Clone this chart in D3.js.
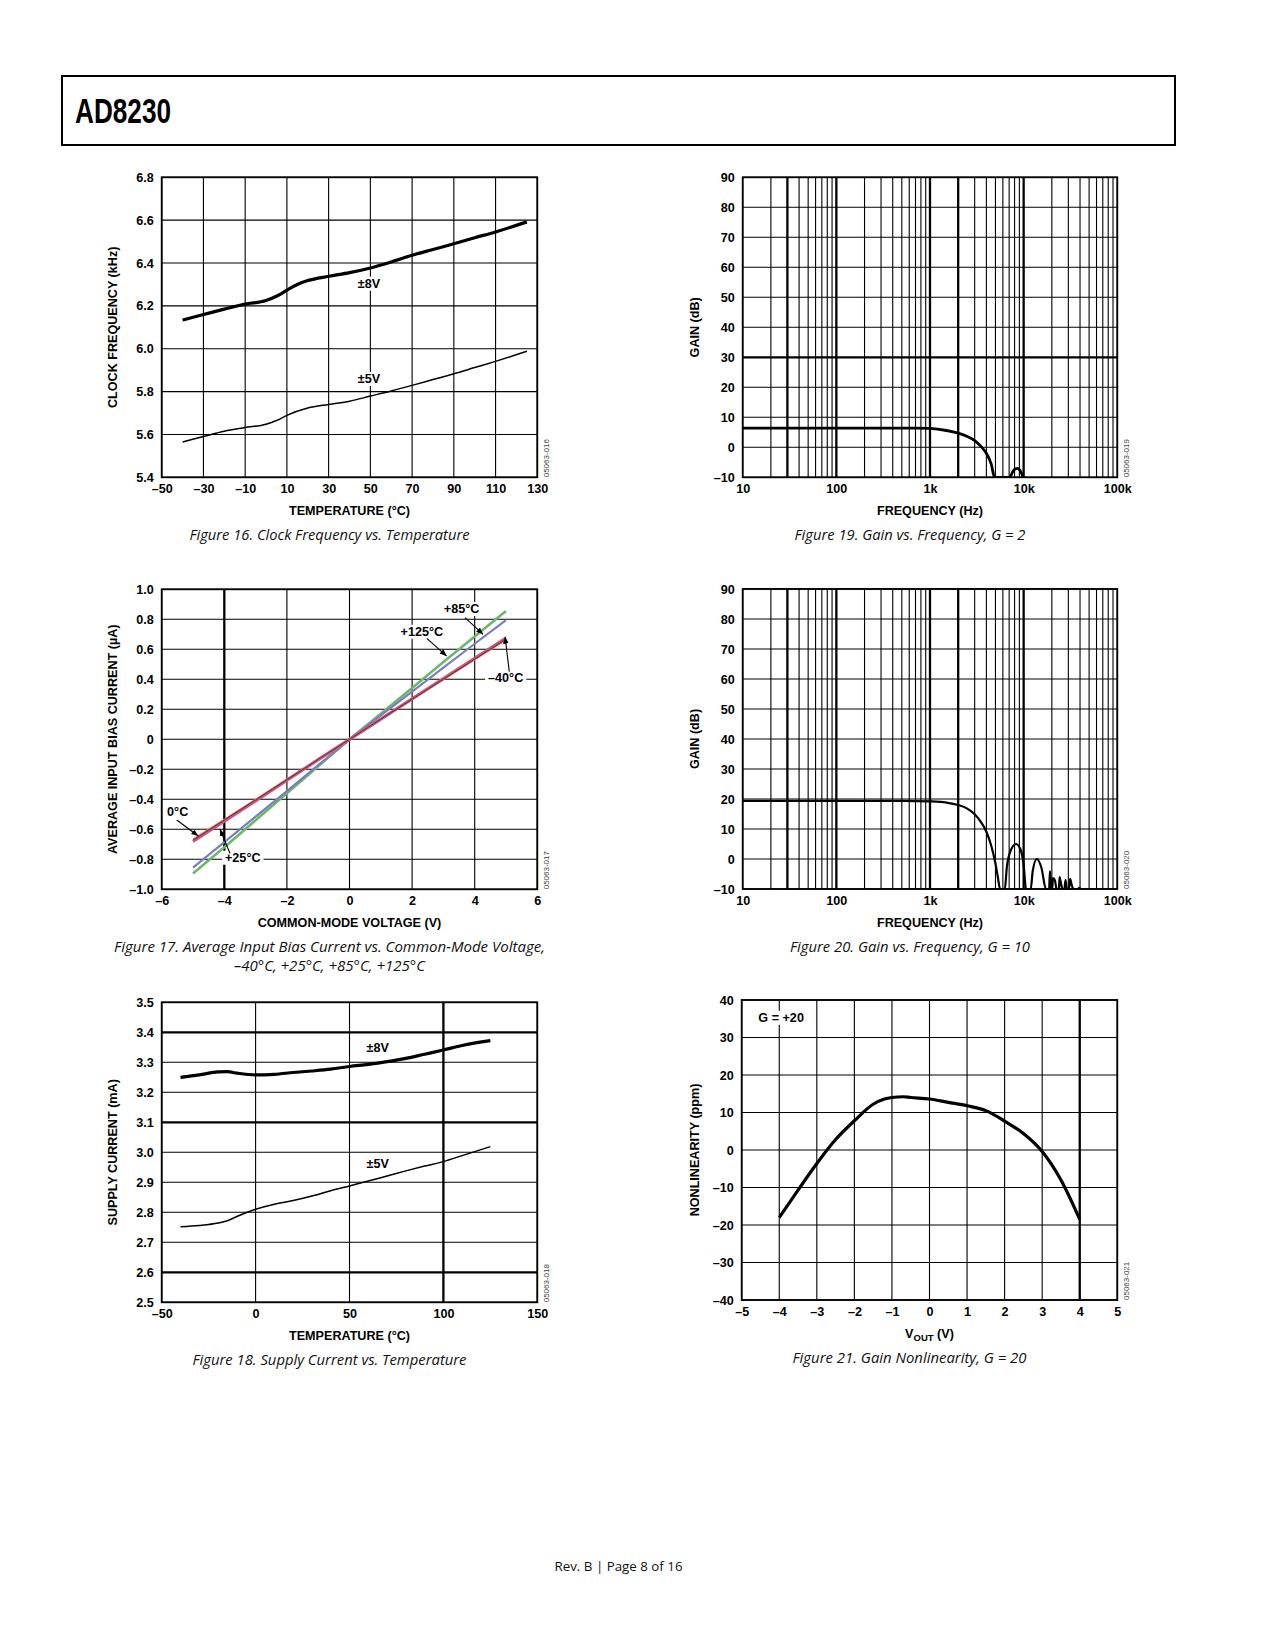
<!DOCTYPE html>
<html><head><meta charset="utf-8">
<script src="https://cdn.jsdelivr.net/npm/d3@7"></script>
<style>
body{margin:0;background:#fff}
svg{display:block}
</style></head><body>
<svg id="page" width="1275" height="1650"></svg>
<script>
// ---------------- DATA ----------------
// Figure 16: clock frequency vs temperature
const f16Temp8 = [-40,-30,-20,-10,0,5,10,15,20,30,40,50,60,70,80,90,100,110,125];
const f16Clk8V = [6.134,6.16,6.185,6.208,6.225,6.245,6.273,6.30,6.318,6.338,6.355,6.377,6.405,6.436,6.463,6.49,6.518,6.545,6.592];
const f16Temp5 = [-40,-30,-20,-10,0,5,10,20,30,40,50,60,70,80,90,100,110,125];
const f16Clk5V = [5.565,5.59,5.615,5.632,5.648,5.665,5.689,5.723,5.74,5.755,5.779,5.803,5.829,5.856,5.883,5.912,5.941,5.988];
const f16XTicks = [-50,-30,-10,10,30,50,70,90,110,130];
const f16YTicks = [5.4,5.6,5.8,6.0,6.2,6.4,6.6,6.8];

// Figure 17: average input bias current vs common-mode voltage
const f17Vcm = [-5,-4,-3,-2,-1,0,1,2,3,4,5];
const f17Ib125 = [-0.895,-0.72,-0.54,-0.36,-0.18,0,0.17,0.342,0.515,0.685,0.855];
const f17Ib85  = [-0.855,-0.685,-0.515,-0.345,-0.172,0,0.16,0.318,0.478,0.637,0.795];
const f17Ib0   = [-0.68,-0.545,-0.41,-0.272,-0.136,0,0.135,0.27,0.405,0.54,0.675];
const f17IbM40 = [-0.665,-0.533,-0.40,-0.266,-0.133,0,0.133,0.265,0.397,0.53,0.66];
const f17Ib25  = [-0.672,-0.538,-0.404,-0.269,-0.134,0,0.134,0.267,0.40,0.534,0.667];
const f17XTicks = [-6,-4,-2,0,2,4,6];
const f17YTicks = [-1.0,-0.8,-0.6,-0.4,-0.2,0,0.2,0.4,0.6,0.8,1.0];
const f17YLabels = ["–1.0","–0.8","–0.6","–0.4","–0.2","0","0.2","0.4","0.6","0.8","1.0"];
// annotation labels: [text, x, y] and arrows [x1,y1,x2,y2] in data units
const f17Labels = [["+85°C",3.58,0.842],["+125°C",2.31,0.69],["–40°C",4.99,0.384],["0°C",-5.49,-0.509],["+25°C",-3.41,-0.816]];
const f17Arrows = [[3.69,0.811,4.27,0.70],[2.47,0.673,3.105,0.555],[5.105,0.451,4.97,0.684],[-5.52,-0.538,-4.83,-0.645],[-3.82,-0.76,-4.14,-0.598]];

// Figure 18: supply current vs temperature
const f18Temp = [-40,-30,-20,-15,-10,0,10,20,30,40,50,60,70,80,90,100,110,125];
const f18I8V = [3.25,3.258,3.268,3.269,3.264,3.258,3.26,3.266,3.271,3.277,3.286,3.293,3.302,3.313,3.327,3.341,3.356,3.372];
const f18I5V = [2.752,2.756,2.764,2.772,2.786,2.81,2.827,2.839,2.854,2.872,2.888,2.904,2.921,2.938,2.954,2.969,2.989,3.019];
const f18XTicks = [-50,0,50,100,150];
const f18YTicks = [2.5,2.6,2.7,2.8,2.9,3.0,3.1,3.2,3.3,3.4,3.5];

// Figure 19: gain vs frequency, G = 2
const f19Freq = [10,50,100,300,500,700,1000,1500,2000,2500,3000,3500,4000,4500,4900,5300,6200,7100,7600,8100,8600,9100,9600,9900,10500];
const f19Gain = [6.4,6.4,6.4,6.4,6.4,6.4,6.3,5.6,4.7,3.6,2.2,0.3,-2.0,-5.5,-10,-10,-10,-10,-8.3,-7.2,-7.0,-7.6,-9.0,-10,-10];
// Figure 20: gain vs frequency, G = 10
const f20Freq = [10,50,100,300,500,1000,1500,2000,2500,3000,3500,4000,4500,5000,5300,5600,6300,6600,7200,8300,9300,10000,10600,11900,12500,13800,15500,17300,18700,19100,19600,20200,20500,21500,22500,23800,24200,25000,26000,27200,28000,29000,30500,31300,32500,34000,38000,39300,40500];
const f20Gain = [19.4,19.4,19.4,19.4,19.4,19.2,18.8,18.0,16.8,14.9,12.3,9.1,4.5,-1.5,-6,-10,-10,-3,2.5,5.0,3.0,-2,-10,-10,-4,0,-3,-10,-10,-4,-10,-10,-6.4,-7,-10,-10,-6,-8,-10,-10,-7,-10,-10,-6.6,-8.5,-10,-10,-9.6,-10];
const gainXTickVals = [10,100,1000,10000,100000];
const gainXTickLabels = ["10","100","1k","10k","100k"];
const gainYTicks = [-10,0,10,20,30,40,50,60,70,80,90];

// Figure 21: gain nonlinearity, G = 20
const f21Vout = [-4,-3.5,-3,-2.5,-2,-1.5,-1.2,-1,-0.7,-0.5,0,0.5,1,1.5,2,2.5,3,3.5,4];
const f21Nl = [-18.0,-10.7,-3.6,2.8,7.8,12.2,13.6,14.0,14.2,14.0,13.6,12.7,11.8,10.5,7.7,4.4,-0.4,-8.0,-18.5];
const f21XTicks = [-5,-4,-3,-2,-1,0,1,2,3,4,5];
const f21YTicks = [-40,-30,-20,-10,0,10,20,30,40];

// ---------------- DRAWING ----------------
const svg = d3.select('#page');
const AX = '"Liberation Sans", Arial, sans-serif';
const CAP = '"Open Sans", "Noto Sans", sans-serif';
const FS = 12.6;
const dash = v => String(v).replace('-', '–');

// header
svg.append('rect').attr('x',62).attr('y',76).attr('width',1113).attr('height',69)
  .attr('fill','none').attr('stroke','#000').attr('stroke-width',2);
svg.append('text').attr('x',75).attr('y',123).text('AD8230')
  .attr('font-family','"Liberation Sans Narrow", "Liberation Sans", Arial, sans-serif')
  .attr('font-weight','bold').attr('font-size',35)
  .attr('textLength',96).attr('lengthAdjust','spacingAndGlyphs');

// footer
svg.append('text').attr('x',618.5).attr('y',1570.5).attr('text-anchor','middle')
  .attr('font-family',CAP).attr('font-size',13.5).attr('textLength',128).attr('lengthAdjust','spacingAndGlyphs').attr('fill','#111')
  .text('Rev. B | Page 8 of 16');

let clipN = 0;
function panel(o){
  const g = svg.append('g').attr('transform',`translate(${o.left},${o.top})`);
  const w = o.w, h = o.h;
  const x = (o.log ? d3.scaleLog() : d3.scaleLinear()).domain(o.xDomain).range([0,w]);
  const y = d3.scaleLinear().domain(o.yDomain).range([h,0]);
  // gridlines
  const xGrid = o.log ? x.ticks() : o.xTicks;
  g.append('g').selectAll('line').data(xGrid).join('line')
    .attr('x1',d=>x(d)).attr('x2',d=>x(d)).attr('y1',0).attr('y2',h)
    .attr('stroke','#000').attr('stroke-width',d=>(o.thickX||[]).includes(d)?2.3:1.1);
  g.append('g').selectAll('line').data(o.yTicks).join('line')
    .attr('x1',0).attr('x2',w).attr('y1',d=>y(d)).attr('y2',d=>y(d))
    .attr('stroke','#000').attr('stroke-width',d=>(o.thickY||[]).includes(d)?2.3:1.1);
  g.append('rect').attr('width',w).attr('height',h).attr('fill','none')
    .attr('stroke','#000').attr('stroke-width',1.8);
  // axes
  const xa = d3.axisBottom(x).tickValues(o.xTickVals||o.xTicks).tickSize(0).tickPadding(7)
    .tickFormat((d,i)=> o.xLabels ? o.xLabels[i] : dash(d));
  const gx = g.append('g').attr('transform',`translate(0,${h})`).call(xa);
  const ya = d3.axisLeft(y).tickValues(o.yTicks).tickSize(0).tickPadding(8)
    .tickFormat((d,i)=> o.yLabels ? o.yLabels[i] : dash(o.yFmt ? d3.format(o.yFmt)(d) : d));
  const gy = g.append('g').call(ya);
  [gx,gy].forEach(a=>{
    a.select('.domain').remove();
    a.selectAll('text').attr('font-family',AX).attr('font-weight','bold').attr('font-size',FS).attr('fill','#000');
  });
  // axis titles
  const xt = g.append('text').attr('x',w/2).attr('y',h+38).attr('text-anchor','middle')
    .attr('font-family',AX).attr('font-weight','bold').attr('font-size',FS);
  if (o.xTitleParts){
    o.xTitleParts.forEach(p=>{
      const t = xt.append('tspan').text(p.t);
      if (p.sub) t.attr('font-size',9.5).attr('dy',3); else if (p.after) t.attr('dy',-3);
    });
  } else xt.text(o.xTitle);
  g.append('text').attr('transform',`translate(${o.yTitleX - o.left},${h/2}) rotate(-90)`)
    .attr('text-anchor','middle').attr('dy','0.35em')
    .attr('font-family',AX).attr('font-weight','bold').attr('font-size',FS).text(o.yTitle);
  // code
  g.append('text').attr('transform',`translate(${w+8.5},${h}) rotate(-90)`)
    .attr('dy','0.35em').attr('font-family',AX).attr('font-size',8).attr('fill','#444').text(o.code);
  // caption
  o.caption.forEach((c,i)=>{
    g.append('text').attr('x',w/2-20).attr('y',h+63+i*19).attr('text-anchor','middle')
      .attr('font-family',CAP).attr('font-style','italic').attr('font-size',15).attr('fill','#111')
      .attr('textLength',c[1]).attr('lengthAdjust','spacingAndGlyphs').text(c[0]);
  });
  // clip
  const id = 'clip'+(clipN++);
  g.append('clipPath').attr('id',id).append('rect').attr('width',w).attr('height',h);
  const plot = g.append('g').attr('clip-path',`url(#${id})`);
  return {g, plot, x, y};
}

function addLine(p, xs, ys, color, width, curve){
  const pts = xs.map((d,i)=>[d, ys[i]]);
  p.plot.append('path').datum(pts)
    .attr('d', d3.line().x(d=>p.x(d[0])).y(d=>p.y(d[1])).curve(curve||d3.curveMonotoneX))
    .attr('fill','none').attr('stroke',color).attr('stroke-width',width)
    .attr('stroke-linejoin','round').attr('stroke-linecap','butt');
}

function label(p, txt, xv, yv, bg, padX){
  const t = p.g.append('text').attr('x',p.x(xv)).attr('y',p.y(yv)).attr('text-anchor','middle')
    .attr('font-family',AX).attr('font-weight','bold').attr('font-size',FS).text(txt);
  if (bg){
    const b = t.node().getBBox();
    const px = padX || 2;
    p.g.insert('rect', () => t.node()).attr('x',b.x-px).attr('y',b.y).attr('width',b.width+2*px).attr('height',b.height).attr('fill','#fff');
  }
  return t;
}

// ---- Figure 16 ----
const p16 = panel({left:161.7, top:177.3, w:375.6, h:300, xDomain:[-50,130], yDomain:[5.4,6.8],
  xTicks:f16XTicks, yTicks:f16YTicks, yFmt:'.1f', xTitle:'TEMPERATURE (°C)', yTitle:'CLOCK FREQUENCY (kHz)',
  yTitleX:112.3, code:'05063-016', caption:[['Figure 16. Clock Frequency vs. Temperature',280]]});
label(p16,'±8V',49.3,6.285,true);
label(p16,'±5V',49.3,5.84,true);
addLine(p16, f16Temp8, f16Clk8V, '#000', 3.2);
addLine(p16, f16Temp5, f16Clk5V, '#000', 1.5);

// ---- Figure 19 ----
const p19 = panel({left:742.7, top:177.3, w:374.6, h:300, log:true, xDomain:[10,100000], yDomain:[-10,90],
  xTickVals:gainXTickVals, xLabels:gainXTickLabels, yTicks:gainYTicks, thickX:[30,100,1000,2000,10000], thickY:[30],
  xTitle:'FREQUENCY (Hz)', yTitle:'GAIN (dB)', yTitleX:695, code:'05063-019',
  caption:[['Figure 19. Gain vs. Frequency, G = 2',231]]});
addLine(p19, f19Freq, f19Gain, '#000', 2.8);

// ---- Figure 17 ----
const p17 = panel({left:161.7, top:589.3, w:375.6, h:300, xDomain:[-6,6], yDomain:[-1,1],
  xTicks:f17XTicks, yTicks:f17YTicks, yLabels:f17YLabels, thickX:[-4],
  xTitle:'COMMON-MODE VOLTAGE (V)', yTitle:'AVERAGE INPUT BIAS CURRENT (µA)', yTitleX:112.3, code:'05063-017',
  caption:[['Figure 17. Average Input Bias Current vs. Common-Mode Voltage,',431],['–40°C, +25°C, +85°C, +125°C',191]]});
addLine(p17, f17Vcm, f17Ib125, '#6cb86a', 2.6, d3.curveLinear);
addLine(p17, f17Vcm, f17Ib85, '#7a7ec0', 2.2, d3.curveLinear);
addLine(p17, f17Vcm, f17Ib0, '#d4507c', 3.2, d3.curveLinear);
addLine(p17, f17Vcm, f17IbM40, '#f07a28', 1.1, d3.curveLinear);
addLine(p17, f17Vcm, f17Ib25, '#2a2a6a', 0.9, d3.curveLinear);
f17Labels.forEach(l=>label(p17,l[0],l[1],l[2],true,3));
const defs = svg.append('defs');
defs.append('marker').attr('id','arr').attr('viewBox','0 0 10 10').attr('refX',10).attr('refY',5)
  .attr('markerWidth',7).attr('markerHeight',7).attr('orient','auto').attr('markerUnits','userSpaceOnUse')
  .append('path').attr('d','M0,1 L10,5 L0,9 Z').attr('fill','#000');
p17.g.append('g').selectAll('line').data(f17Arrows).join('line')
  .attr('x1',d=>p17.x(d[0])).attr('y1',d=>p17.y(d[1])).attr('x2',d=>p17.x(d[2])).attr('y2',d=>p17.y(d[3]))
  .attr('stroke','#000').attr('stroke-width',1.1).attr('marker-end','url(#arr)');

// ---- Figure 20 ----
const p20 = panel({left:742.7, top:589, w:374.6, h:300, log:true, xDomain:[10,100000], yDomain:[-10,90],
  xTickVals:gainXTickVals, xLabels:gainXTickLabels, yTicks:gainYTicks, thickX:[30,100,1000,2000,10000],
  xTitle:'FREQUENCY (Hz)', yTitle:'GAIN (dB)', yTitleX:695, code:'05063-020',
  caption:[['Figure 20. Gain vs. Frequency, G = 10',240]]});
addLine(p20, f20Freq, f20Gain, '#000', 2.2);

// ---- Figure 18 ----
const p18 = panel({left:161.7, top:1002.3, w:375.6, h:300, xDomain:[-50,150], yDomain:[2.5,3.5],
  xTicks:f18XTicks, yTicks:f18YTicks, yFmt:'.1f', thickX:[100], thickY:[3.4,3.1,2.6],
  xTitle:'TEMPERATURE (°C)', yTitle:'SUPPLY CURRENT (mA)', yTitleX:112.3, code:'05063-018',
  caption:[['Figure 18. Supply Current vs. Temperature',274]]});
label(p18,'±8V',65,3.335,false);
label(p18,'±5V',65,2.947,false);
addLine(p18, f18Temp, f18I8V, '#000', 3.2);
addLine(p18, f18Temp, f18I5V, '#000', 1.5);

// ---- Figure 21 ----
const p21 = panel({left:741.7, top:1000, w:375.6, h:300, xDomain:[-5,5], yDomain:[-40,40],
  xTicks:f21XTicks, yTicks:f21YTicks, thickX:[4],
  xTitleParts:[{t:'V'},{t:'OUT',sub:true},{t:' (V)',after:true}], yTitle:'NONLINEARITY (ppm)', yTitleX:695, code:'05063-021',
  caption:[['Figure 21. Gain Nonlinearity, G = 20',234]]});
label(p21,'G = +20',-3.95,34.2,true,6);
addLine(p21, f21Vout, f21Nl, '#000', 3.2);
</script>
</body></html>
